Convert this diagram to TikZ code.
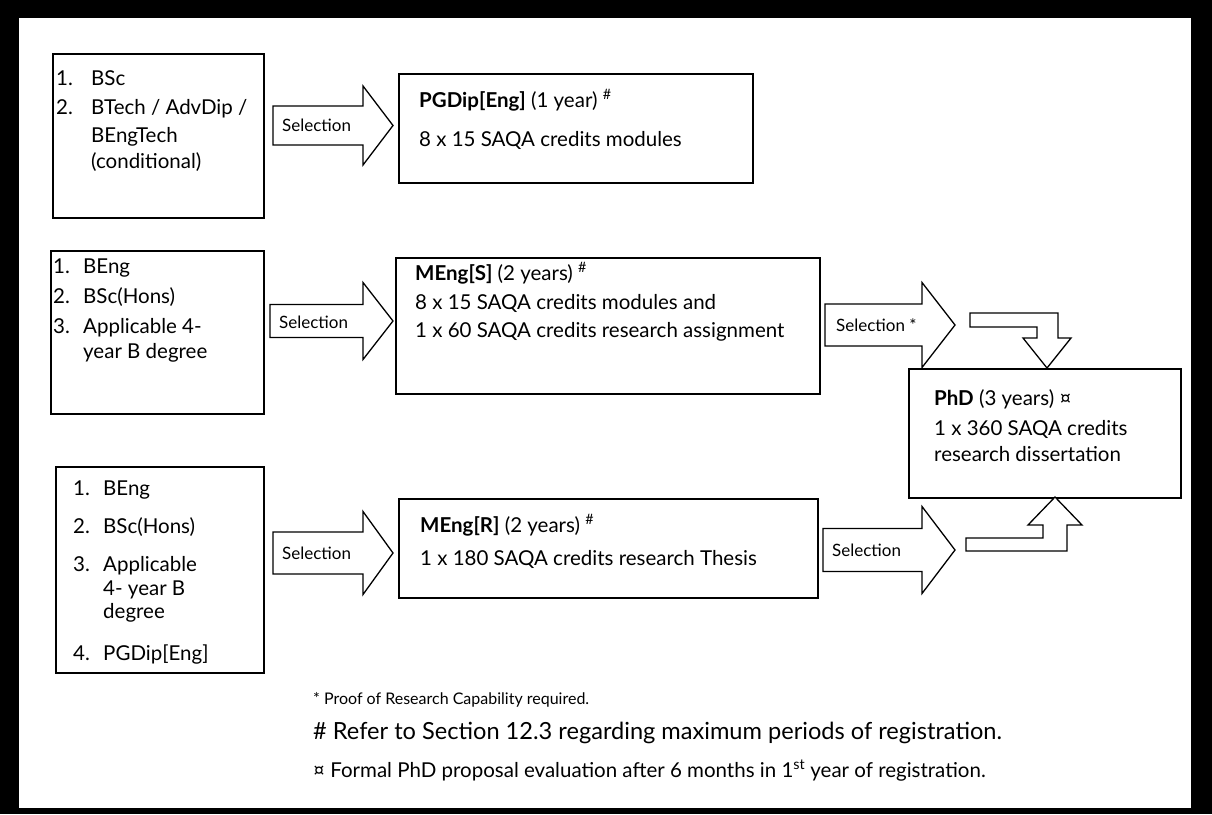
\documentclass[tikz,border=0pt]{standalone}
\usepackage{fontspec}
\setmainfont{Lato}
\begin{document}
\begin{tikzpicture}[x=1pt,y=-1pt,
  box/.style={draw, line width=1.6pt, anchor=north west, inner sep=0pt},
  arr/.style={draw, line width=1.3pt, fill=white, line join=miter},
  txt/.style={anchor=base west, inner sep=0pt, font=\fontsize{20.5}{24}\selectfont},
  sel/.style={anchor=west, inner sep=0pt, font=\fontsize{17}{20}\selectfont},
  fnA/.style={anchor=base west, inner sep=0pt, font=\fontsize{16}{19}\selectfont},
  fnB/.style={anchor=base west, inner sep=0pt, font=\fontsize{23.6}{27}\selectfont},
  fnC/.style={anchor=base west, inner sep=0pt, font=\fontsize{20.5}{24}\selectfont},
  pics/blk/.style n args={4}{code={
    \draw[arr] (0,-#2) -- (#1,-#2) -- (#1,-#3) -- ({#1+#4},0) -- (#1,#3) -- (#1,#2) -- (0,#2) -- cycle;}}
]
% frame
\fill[black] (0,0) rectangle (1212,814);
\fill[white] (19,18) rectangle (1191,808);
\useasboundingbox (0,0) rectangle (1212,814);

% boxes
\node[box, minimum width=211, minimum height=164] (b1) at (52,53) {};
\node[box, minimum width=213, minimum height=163] (b2) at (50,250) {};
\node[box, minimum width=208, minimum height=206] (b3) at (55,466) {};
\node[box, minimum width=354, minimum height=109] (pg) at (398,73) {};
\node[box, minimum width=424, minimum height=136] (ms) at (395,257) {};
\node[box, minimum width=419, minimum height=99] (mr) at (398,498) {};
\node[box, minimum width=272, minimum height=129] (phd) at (908,368) {};

% box 1 text
\node[txt] (b1n1) at (56,85) {1.};  \node[txt] (b1t1) at (91,85) {BSc};
\node[txt] (b1n2) at (56,114) {2.}; \node[txt] (b1t2) at (91,114) {BTech / AdvDip /};
\node[txt] (b1t3) at (91,142) {BEngTech};
\node[txt] (b1t4) at (91,168) {(conditional)};

% box 2 text
\node[txt] (b2n1) at (53,273) {1.}; \node[txt] (b2t1) at (83,273) {BEng};
\node[txt] (b2n2) at (53,303) {2.}; \node[txt] (b2t2) at (83,303) {BSc(Hons)};
\node[txt] (b2n3) at (53,333) {3.}; \node[txt] (b2t3) at (83,333) {Applicable 4-};
\node[txt] (b2t4) at (83,358) {year B degree};

% box 3 text
\node[txt] (b3n1) at (73,495) {1.}; \node[txt] (b3t1) at (103,495) {BEng};
\node[txt] (b3n2) at (73,533) {2.}; \node[txt] (b3t2) at (103,533) {BSc(Hons)};
\node[txt] (b3n3) at (73,571) {3.}; \node[txt] (b3t3) at (103,571) {Applicable};
\node[txt] (b3t4) at (103,595) {4- year B};
\node[txt] (b3t5) at (103,618) {degree};
\node[txt] (b3n4) at (73,660) {4.}; \node[txt] (b3t6) at (103,660) {PGDip[Eng]};

% programme boxes text
\node[txt] (pg1) at (419,107) {\textbf{PGDip[Eng]} (1 year) \textsuperscript{\#}};
\node[txt] (pg2) at (419,146) {8 x 15 SAQA credits modules};
\node[txt] (ms1) at (415,280) {\textbf{MEng[S]} (2 years) \textsuperscript{\#}};
\node[txt] (ms2) at (415,309) {8 x 15 SAQA credits modules and};
\node[txt] (ms3) at (415,337) {1 x 60 SAQA credits research assignment};
\node[txt] (mr1) at (420,532) {\textbf{MEng[R]} (2 years) \textsuperscript{\#}};
\node[txt] (mr2) at (420,565) {1 x 180 SAQA credits research Thesis};
\node[txt] (ph1) at (934,405) {\textbf{PhD} (3 years) ¤};
\node[txt] (ph2) at (934,435) {1 x 360 SAQA credits};
\node[txt] (ph3) at (934,461) {research dissertation};

% selection block arrows
\pic (a1) at (273,125.5) {blk={90}{19.5}{39.5}{30}};
\node[sel] (s1) at (282,125.5) {Selection};
\pic (a2) at (270,321) {blk={93}{16.5}{38.5}{30}};
\node[sel] (s2) at (279,322) {Selection};
\pic (a4) at (273,553) {blk={90}{21}{41.5}{30}};
\node[sel] (s4) at (282,553) {Selection};
\pic (a5) at (825,325) {blk={97}{21}{42.5}{33}};
\node[sel] (s5) at (836,325) {Selection *};
\pic (a3) at (823,550) {blk={99}{21.5}{43.5}{33}};
\node[sel] (s3) at (832,550) {Selection};

% bent arrows into PhD
\draw[arr] (970,313) -- (1058,313) -- (1058,338) -- (1071,338) -- (1047,368) -- (1023,338) -- (1037,338) -- (1037,327) -- (970,327) -- cycle;
\draw[arr] (966,551) -- (1067,551) -- (1067,525) -- (1082,525) -- (1055,497) -- (1028,525) -- (1043,525) -- (1043,538) -- (966,538) -- cycle;

% footnotes
\node[fnA] (f1) at (313,704) {* Proof of Research Capability required.};
\node[fnB] (f2) at (313,739) {\# Refer to Section 12.3 regarding maximum periods of registration.};
\node[fnC] (f3) at (313,777) {¤ Formal PhD proposal evaluation after 6 months in 1\textsuperscript{st} year of registration.};
\end{tikzpicture}
\end{document}
